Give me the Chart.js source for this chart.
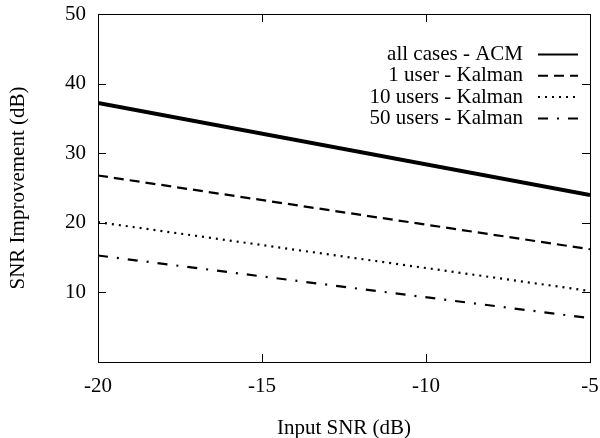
<!DOCTYPE html>
<html>
<head>
<meta charset="utf-8">
<script src="https://cdn.jsdelivr.net/npm/chart.js@4/dist/chart.umd.min.js"></script>
<style>
  html, body { margin: 0; padding: 0; background: #fff; }
  #wrap { width: 600px; height: 438px; }
</style>
</head>
<body>
<div id="wrap"><canvas id="myChart"></canvas></div>
<script>
// input SNR (dB) at the ends of each line
const inputSnr = [-20, -5];
const acm = [37.2, 24.0];
const kalman1 = [26.8, 16.2];
const kalman10 = [20.1, 10.2];
const kalman50 = [15.3, 6.3];
const seriesNames = ["all cases - ACM", "1 user - Kalman", "10 users - Kalman", "50 users - Kalman"];
const xTicks = [-20, -15, -10, -5];
const yTicks = [10, 20, 30, 40, 50];

const FONT = "'Liberation Serif', 'Times New Roman', serif";
const FS = 21;
const ctx = document.getElementById("myChart");

function toPoints(ys) {
  return inputSnr.map((x, i) => ({ x: x, y: ys[i] }));
}

// gnuplot-like frame, inward ticks and key
const framePlugin = {
  id: "frame",
  afterDraw(chart) {
    const c = chart.ctx;
    const a = chart.chartArea;
    const xs = chart.scales.x;
    const ys = chart.scales.y;
    c.save();
    c.strokeStyle = "#000";
    c.lineWidth = 1;
    c.strokeRect(a.left + 0.5, a.top + 0.5, a.right - a.left, a.bottom - a.top);
    c.beginPath();
    yTicks.forEach(v => {
      if (v >= ys.max) return;
      const py = Math.round(ys.getPixelForValue(v)) + 0.5;
      c.moveTo(a.left, py); c.lineTo(a.left + 8, py);
      c.moveTo(a.right, py); c.lineTo(a.right - 8, py);
    });
    xTicks.forEach(v => {
      if (v <= xs.min || v >= xs.max) return;
      const px = Math.round(xs.getPixelForValue(v)) + 0.5;
      c.moveTo(px, a.bottom); c.lineTo(px, a.bottom - 8);
      c.moveTo(px, a.top); c.lineTo(px, a.top + 8);
    });
    c.stroke();

    // key, text right aligned with sample line on the right
    c.font = FS + "px " + FONT;
    c.textAlign = "right";
    c.textBaseline = "middle";
    chart.data.datasets.forEach((ds, i) => {
      const y = 54.5 + i * 21.3;
      c.fillStyle = "#000";
      c.fillText(ds.label, 523, y);
      c.beginPath();
      c.setLineDash(ds.borderDash || []);
      c.lineWidth = 2;
      c.moveTo(538, y);
      c.lineTo(578, y);
      c.stroke();
    });
    c.restore();
  }
};

new Chart(ctx, {
  type: "line",
  data: {
    datasets: [
      { label: seriesNames[0], data: toPoints(acm), borderColor: "#000", borderWidth: 4, pointRadius: 0, borderDash: [] },
      { label: seriesNames[1], data: toPoints(kalman1), borderColor: "#000", borderWidth: 2.2, pointRadius: 0, borderDash: [10, 6] },
      { label: seriesNames[2], data: toPoints(kalman10), borderColor: "#000", borderWidth: 2.2, pointRadius: 0, borderDash: [2, 5] },
      { label: seriesNames[3], data: toPoints(kalman50), borderColor: "#000", borderWidth: 2.2, pointRadius: 0, borderDash: [10, 9, 2, 9] }
    ]
  },
  options: {
    responsive: true,
    maintainAspectRatio: false,
    animation: false,
    layout: { padding: { top: 14, right: 10, left: 0, bottom: 0 } },
    plugins: {
      legend: { display: false },
      tooltip: { enabled: false }
    },
    scales: {
      x: {
        type: "linear",
        min: -20,
        max: -5,
        border: { display: false },
        grid: { display: false, drawTicks: false },
        afterBuildTicks: s => { s.ticks = xTicks.map(v => ({ value: v })); },
        afterFit: s => { s.height = 76; s.paddingLeft = 0; s.paddingRight = 0; },
        ticks: { color: "#000", padding: 12, font: { family: FONT, size: FS }, maxRotation: 0 },
        title: { display: true, text: "Input SNR (dB)", color: "#000", font: { family: FONT, size: FS }, padding: { top: 4, bottom: -3 } }
      },
      y: {
        min: 0,
        max: 50,
        border: { display: false },
        grid: { display: false, drawTicks: false },
        afterBuildTicks: s => { s.ticks = yTicks.map(v => ({ value: v })); },
        afterFit: s => { s.width = 98; s.paddingTop = 0; s.paddingBottom = 0; },
        ticks: { color: "#000", padding: 12, font: { family: FONT, size: FS } },
        title: { display: true, text: "SNR Improvement (dB)", color: "#000", font: { family: FONT, size: FS }, padding: { top: 6 } }
      }
    }
  },
  plugins: [framePlugin]
});
</script>
</body>
</html>
